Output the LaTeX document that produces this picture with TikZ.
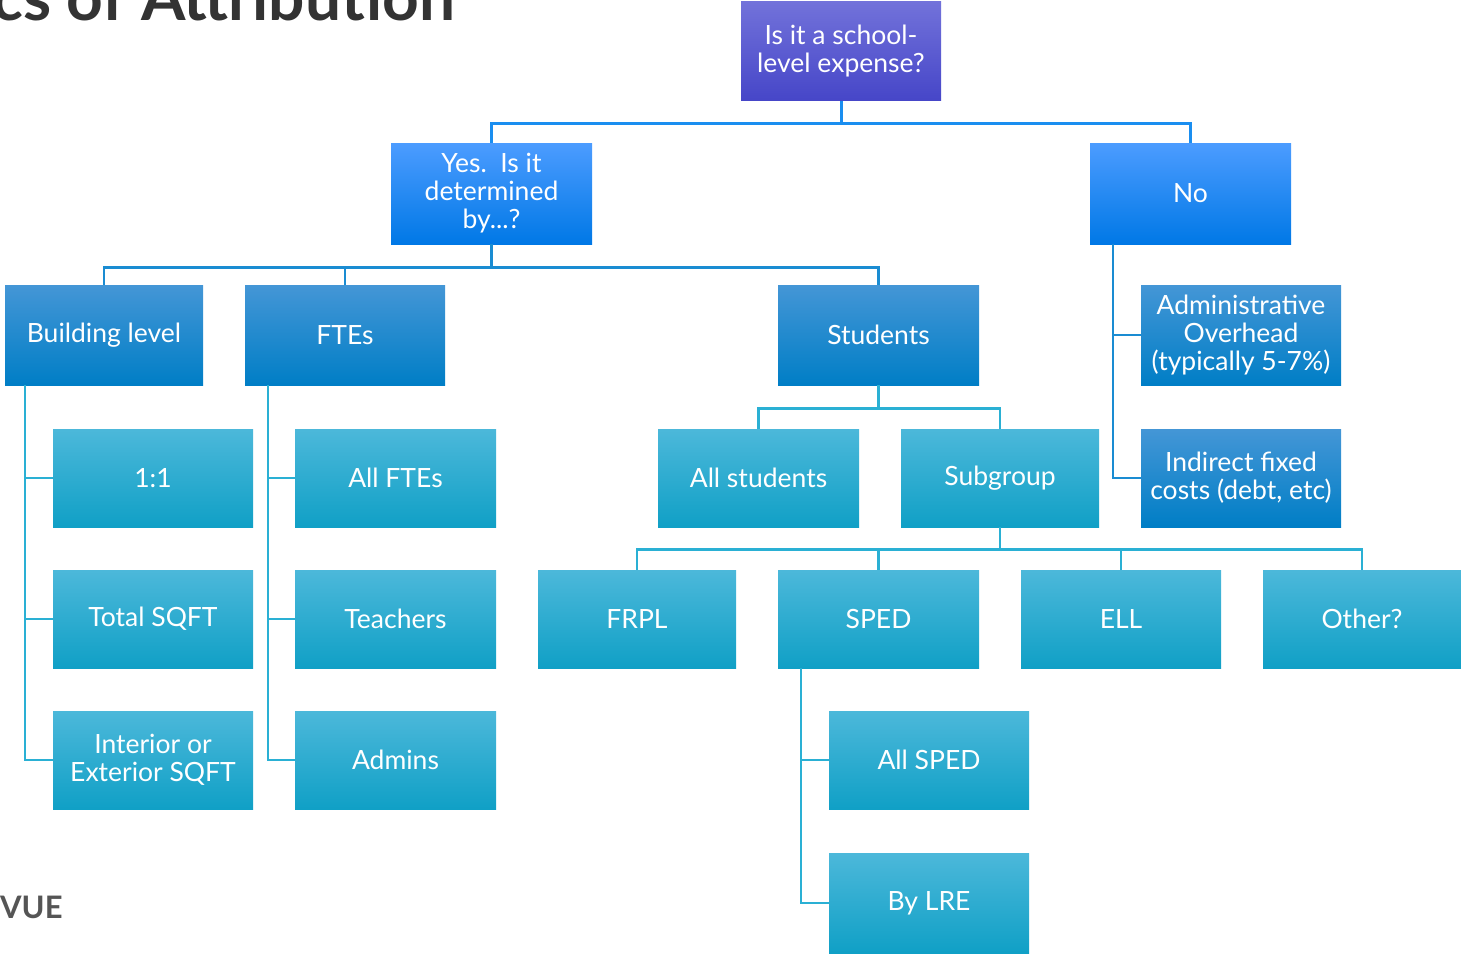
\documentclass[tikz,border=0pt]{standalone}
\usepackage{fontspec}
\setmainfont{Lato}
\definecolor{purpT}{HTML}{7272DA}
\definecolor{purpB}{HTML}{4646C8}
\definecolor{brT}{HTML}{4C9CFF}
\definecolor{brM}{HTML}{0A88FF}
\definecolor{brB}{HTML}{0078E6}
\definecolor{mbT}{HTML}{4496D6}
\definecolor{mbM}{HTML}{0A88D8}
\definecolor{mbB}{HTML}{007EC6}
\definecolor{tlT}{HTML}{4CB8DA}
\definecolor{tlM}{HTML}{1CB2D8}
\definecolor{tlB}{HTML}{10A0C6}
\definecolor{lnA}{HTML}{1A8EF0}
\definecolor{lnB}{HTML}{1A8CD2}
\definecolor{lnC}{HTML}{2AB0D4}
\definecolor{titlegray}{HTML}{333333}
\definecolor{vuegray}{HTML}{555555}
\tikzset{
  box/.style={rectangle, inner sep=2pt, align=center, text=white,
    font=\fontsize{26.5}{28}\selectfont, minimum height=99pt},
  purpbox/.style={box, top color=purpT, bottom color=purpB},
  brbox/.style={box, top color=brT, middle color=brM, bottom color=brB},
  mbbox/.style={box, top color=mbT, middle color=mbM, bottom color=mbB},
  tlbox/.style={box, top color=tlT, middle color=tlM, bottom color=tlB},
  conA/.style={draw=lnA, line width=3pt},
  conB/.style={draw=lnB, line width=2.6pt},
  conC/.style={draw=lnC, line width=2.6pt},
}
\begin{document}
\begin{tikzpicture}[x=1pt,y=-1pt]
\useasboundingbox (0,0) rectangle (1461,954);
% title and footer
\node[anchor=base west, inner sep=0, text=titlegray, font=\fontsize{64}{70}\selectfont\bfseries] (title) at (-8,20) {cs of Attribution};
\node[anchor=base west, inner sep=0, text=vuegray, font=\fontsize{31}{34}\selectfont\bfseries] (vue) at (0,918) {VUE};
% level 0
\node[purpbox, minimum width=200pt] (top) at (841,51) {Is it a school-\\level expense?};
% level 1
\node[brbox, minimum width=201pt, minimum height=101pt] (yes) at (491.5,193.5) {Yes.\ \ Is it\\determined\\by...?};
\node[brbox, minimum width=201pt, minimum height=101pt] (no) at (1190.5,193.5) {No};
% level 2
\node[mbbox, minimum width=198pt, minimum height=100pt] (bl) at (104,335) {Building level};
\node[mbbox, minimum width=200pt, minimum height=100pt] (fte) at (345,335) {FTEs};
\node[mbbox, minimum width=201pt, minimum height=100pt] (stu) at (878.5,335) {Students};
\node[mbbox, minimum width=200pt, minimum height=100pt] (adm) at (1241,335) {Administrative\\Overhead\\(typically 5-7\%)};
\node[mbbox, minimum width=200pt, minimum height=98pt] (ind) at (1241,478) {Indirect fixed\\costs (debt, etc)};
% building level children
\node[tlbox, minimum width=200pt, minimum height=98pt] (one) at (153,478) {1:1};
\node[tlbox, minimum width=200pt, minimum height=98pt] (tsq) at (153,619) {Total SQFT};
\node[tlbox, minimum width=200pt, minimum height=98pt] (ie) at (153,760) {Interior or\\Exterior SQFT};
% FTE children
\node[tlbox, minimum width=201pt, minimum height=98pt] (allf) at (395.5,478) {All FTEs};
\node[tlbox, minimum width=201pt, minimum height=98pt] (tch) at (395.5,619) {Teachers};
\node[tlbox, minimum width=201pt, minimum height=98pt] (adms) at (395.5,760) {Admins};
% students children
\node[tlbox, minimum width=201pt, minimum height=98pt] (alls) at (758.5,478) {All students};
\node[tlbox, minimum width=198pt, minimum height=98pt] (sub) at (1000,478) {Subgroup};
% subgroup children
\node[tlbox, minimum width=198pt, minimum height=98pt] (frpl) at (637,619) {FRPL};
\node[tlbox, minimum width=201pt, minimum height=98pt] (sped) at (878.5,619) {SPED};
\node[tlbox, minimum width=200pt, minimum height=98pt] (ell) at (1121,619) {ELL};
\node[tlbox, minimum width=198pt, minimum height=98pt] (oth) at (1362,619) {Other?};
% SPED children
\node[tlbox, minimum width=200pt, minimum height=98pt] (asp) at (929,760) {All SPED};
\node[tlbox, minimum width=200pt, minimum height=100pt] (lre) at (929,903) {By LRE};
% connectors
\draw[conA] (top.south) -- ++(0,23) -| (yes.north);
\draw[conA] (top.south) -- ++(0,23) -| (no.north);
\draw[conB] (yes.south) -- ++(0,23) -| (bl.north);
\draw[conB] (yes.south) -- ++(0,23) -| (fte.north);
\draw[conB] (yes.south) -- ++(0,23) -| (stu.north);
\draw[conB] (no.south west) ++(23,0) |- (adm.west);
\draw[conB] (no.south west) ++(23,0) |- (ind.west);
\draw[conC] (bl.south west) ++(20,0) |- (one.west);
\draw[conC] (bl.south west) ++(20,0) |- (tsq.west);
\draw[conC] (bl.south west) ++(20,0) |- (ie.west);
\draw[conC] (fte.south west) ++(23,0) |- (allf.west);
\draw[conC] (fte.south west) ++(23,0) |- (tch.west);
\draw[conC] (fte.south west) ++(23,0) |- (adms.west);
\draw[conC] (stu.south) -- ++(0,23) -| (alls.north);
\draw[conC] (stu.south) -- ++(0,23) -| (sub.north);
\draw[conC] (sub.south) -- ++(0,22) -| (frpl.north);
\draw[conC] (sub.south) -- ++(0,22) -| (sped.north);
\draw[conC] (sub.south) -- ++(0,22) -| (ell.north);
\draw[conC] (sub.south) -- ++(0,22) -| (oth.north);
\draw[conC] (sped.south west) ++(23,0) |- (asp.west);
\draw[conC] (sped.south west) ++(23,0) |- (lre.west);
\end{tikzpicture}
\end{document}
